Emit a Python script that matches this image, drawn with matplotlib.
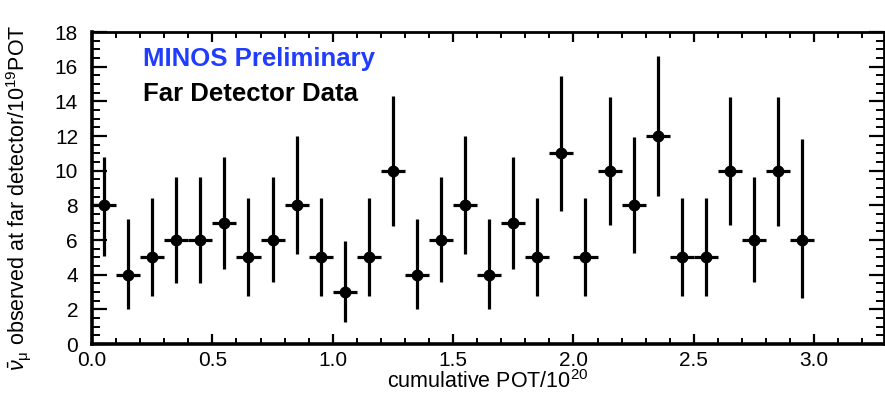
import matplotlib
matplotlib.use("Agg")
import matplotlib.pyplot as plt
from matplotlib.ticker import MultipleLocator, FormatStrFormatter
import numpy as np

plt.rcParams['font.family'] = ['Liberation Sans', 'DejaVu Sans']
plt.rcParams['mathtext.fontset'] = 'custom'
plt.rcParams['mathtext.rm'] = 'Liberation Sans'
plt.rcParams['mathtext.it'] = 'Liberation Sans:italic'
plt.rcParams['mathtext.bf'] = 'Liberation Sans:bold'

# Bin centres in cumulative POT (units of 1e20) and half-widths
pot_centres = [0.05, 0.15, 0.25, 0.35, 0.45, 0.55, 0.65, 0.75, 0.85, 0.95,
               1.05, 1.15, 1.25, 1.35, 1.45, 1.55, 1.65, 1.75, 1.85, 1.95,
               2.05, 2.15, 2.25, 2.35, 2.45, 2.55, 2.65, 2.75, 2.85, 2.95]
pot_halfwidth = 0.05

# Observed antineutrino events per 1e19 POT
events = [8, 4, 5, 6, 6, 7, 5, 6, 8, 5,
          3, 5, 10, 4, 6, 8, 4, 7, 5, 11,
          5, 10, 8, 12, 5, 5, 10, 6, 10, 6]

# Lower / upper ends of the confidence intervals
lower = [5.10, 2.02, 2.77, 3.54, 3.54, 4.34, 2.77, 3.56, 5.17, 2.77,
         1.29, 2.77, 6.83, 2.02, 3.56, 5.19, 2.04, 4.35, 2.79, 7.67,
         2.79, 6.87, 5.23, 8.54, 2.79, 2.79, 6.87, 3.56, 6.83, 2.67]
upper = [10.81, 7.21, 8.41, 9.62, 9.62, 10.81, 8.41, 9.62, 12.00, 8.41,
         5.96, 8.44, 14.31, 7.23, 9.62, 12.00, 7.22, 10.81, 8.44, 15.46,
         8.44, 14.27, 11.96, 16.62, 8.42, 8.42, 14.27, 9.62, 14.27, 11.85]

x = np.array(pot_centres)
y = np.array(events, dtype=float)
yerr = np.vstack([y - np.array(lower), np.array(upper) - y])

fig = plt.figure(figsize=(8.85, 3.99), dpi=100)
ax = fig.add_axes([92 / 885, 55 / 399, 792 / 885, 312 / 399])

ax.errorbar(x, y, xerr=pot_halfwidth, yerr=yerr, fmt='o', color='black',
            ms=7.5, elinewidth=2.3, capsize=0, zorder=3)

ax.set_xlim(0, 3.29)
ax.set_ylim(0, 18)
ax.xaxis.set_major_locator(MultipleLocator(0.5))
ax.xaxis.set_minor_locator(MultipleLocator(0.1))
ax.yaxis.set_major_locator(MultipleLocator(2))
ax.yaxis.set_minor_locator(MultipleLocator(0.5))
ax.xaxis.set_major_formatter(FormatStrFormatter('%.1f'))

ax.tick_params(axis='both', which='both', direction='in', top=True, right=True,
               labelsize=15, colors='black')
ax.tick_params(axis='y', which='major', length=11, width=1.6, pad=10)
ax.tick_params(axis='y', which='minor', length=6, width=1.4)
ax.tick_params(axis='x', which='major', length=7, width=1.6, pad=5)
ax.tick_params(axis='x', which='minor', length=4, width=1.4)

for side in ['left', 'bottom']:
    ax.spines[side].set_linewidth(2.6)
for side in ['top', 'right']:
    ax.spines[side].set_linewidth(2.0)

ax.set_xlabel(r'cumulative POT/10$^{20}$', fontsize=15.5, labelpad=0)
ax.set_ylabel(r'$\bar{\nu}_{\mathrm{\mu}}$ observed at far detector/10$^{19}$POT',
              fontsize=15.5)
ax.yaxis.set_label_coords(-0.074, 0.47)

fig.text(143 / 885, 1 - 66 / 399, 'MINOS Preliminary', color='#1f3cff',
         fontsize=18.5, fontweight='bold', ha='left', va='baseline')
fig.text(143 / 885, 1 - 101 / 399, 'Far Detector Data', color='black',
         fontsize=18.5, fontweight='bold', ha='left', va='baseline')

fig.savefig('out.png', dpi=100)
